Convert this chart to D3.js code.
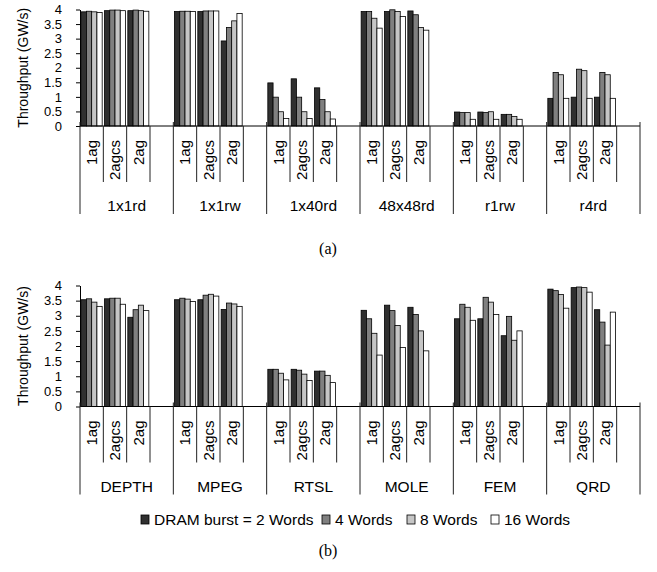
<!DOCTYPE html>
<html>
<head>
<meta charset="utf-8">
<script src="https://cdn.jsdelivr.net/npm/d3@7"></script>
<style>
body { margin: 0; background: #fff; }
svg { font-family: "Liberation Sans", Arial, sans-serif; }
</style>
</head>
<body>
<svg width="657" height="572"></svg>
<script>
var groupsA = ["1x1rd", "1x1rw", "1x40rd", "48x48rd", "r1rw", "r4rd"];
var groupsB = ["DEPTH", "MPEG", "RTSL", "MOLE", "FEM", "QRD"];
var subs = ["1ag", "2agcs", "2ag"];
var seriesNames = ["DRAM burst = 2 Words", "4 Words", "8 Words", "16 Words"];
var yTicks = [0, 0.5, 1, 1.5, 2, 2.5, 3, 3.5, 4];

// values in group order, 3 subs per group
var a2  = [3.92,3.96,3.96, 3.93,3.93,2.92, 1.48,1.62,1.31, 3.93,3.93,3.95, 0.48,0.48,0.40, 0.95,0.99,0.99];
var a4  = [3.94,3.98,3.98, 3.94,3.95,3.38, 0.99,0.99,0.91, 3.93,3.99,3.82, 0.46,0.46,0.40, 1.84,1.95,1.84];
var a8  = [3.92,3.98,3.96, 3.94,3.95,3.61, 0.49,0.49,0.49, 3.70,3.93,3.38, 0.46,0.49,0.33, 1.76,1.90,1.76];
var a16 = [3.90,3.96,3.94, 3.93,3.95,3.86, 0.26,0.26,0.24, 3.36,3.76,3.29, 0.23,0.23,0.23, 0.95,0.95,0.95];

var b2  = [3.53,3.56,2.95, 3.53,3.53,3.21, 1.23,1.23,1.17, 3.18,3.35,3.28, 2.90,2.90,2.34, 3.88,3.93,3.20];
var b4  = [3.56,3.58,3.20, 3.58,3.68,3.42, 1.23,1.20,1.17, 2.90,3.17,3.04, 3.38,3.61,2.98, 3.83,3.95,2.79];
var b8  = [3.45,3.58,3.35, 3.55,3.71,3.39, 1.10,1.07,1.03, 2.42,2.68,2.50, 3.28,3.45,2.19, 3.70,3.93,2.03];
var b16 = [3.31,3.38,3.17, 3.47,3.65,3.31, 0.88,0.86,0.79, 1.70,1.95,1.84, 2.85,3.04,2.50, 3.25,3.78,3.12];

var colors = ["#303030", "#808080", "#c6c6c6", "#ffffff"];

var svg = d3.select("svg");

function drawPanel(groups, series, y0, y4, caption, captionY) {
  var g = svg.append("g");
  var slots = [];
  groups.forEach(function(gr) {
    subs.forEach(function(s) { slots.push(gr + "|" + s); });
    slots.push(gr + "|_");
  });

  var x = d3.scaleBand().domain(slots).range([80, 640]);
  var xs = d3.scaleBand().domain(d3.range(4)).range([0, x.bandwidth()]).paddingOuter(0.22);
  var y = d3.scaleLinear().domain([0, 4]).range([y0, y4]);

  var rows = [];
  groups.forEach(function(gr, gi) {
    subs.forEach(function(s, si) {
      series.forEach(function(arr, k) {
        rows.push({slot: gr + "|" + s, k: k, v: arr[gi * 3 + si]});
      });
    });
  });

  g.selectAll("rect.bar")
    .data(rows)
    .enter().append("rect")
    .attr("class", "bar")
    .attr("x", function(d) { return x(d.slot) + xs(d.k); })
    .attr("width", xs.bandwidth())
    .attr("y", function(d) { return y(d.v); })
    .attr("height", function(d) { return y(0) - y(d.v); })
    .attr("fill", function(d) { return colors[d.k]; })
    .attr("stroke", "#000")
    .attr("stroke-width", 0.8);

  // y axis
  var ya = g.append("g")
    .attr("transform", "translate(80,0)")
    .call(d3.axisLeft(y).tickValues(yTicks).tickSize(4).tickSizeOuter(0).tickPadding(14)
      .tickFormat(function(d) { return String(d); }));
  ya.selectAll("text").attr("font-size", 13).attr("fill", "#000").attr("font-family", "Liberation Sans, Arial");
  ya.selectAll("line, path").attr("stroke", "#000");

  // category axis
  g.append("line")
    .attr("x1", 80).attr("x2", 640)
    .attr("y1", y0).attr("y2", y0)
    .attr("stroke", "#000");

  slots.forEach(function(s, i) {
    var first = i % 4 === 0;
    var xx = x(s);
    g.append("line")
      .attr("x1", xx).attr("x2", xx)
      .attr("y1", first ? y0 - 4 : y0).attr("y2", first ? y0 + 88 : y0 + 56)
      .attr("stroke", "#222");
  });
  g.append("line")
    .attr("x1", 640).attr("x2", 640)
    .attr("y1", y0 - 4).attr("y2", y0 + 88)
    .attr("stroke", "#222");

  slots.forEach(function(s) {
    var lab = s.split("|")[1];
    if (lab === "_") return;
    var cx = x(s) + x.bandwidth() / 2;
    g.append("text")
      .attr("transform", "translate(" + cx + "," + (y0 + 14) + ") rotate(-90)")
      .attr("text-anchor", "end")
      .attr("dy", "0.35em")
      .attr("font-size", 15)
      .text(lab);
  });

  groups.forEach(function(gr) {
    var cx = x(gr + "|" + subs[0]) + 2 * x.bandwidth();
    g.append("text")
      .attr("x", cx).attr("y", y0 + 80)
      .attr("dy", "0.35em")
      .attr("text-anchor", "middle")
      .attr("font-size", 15.5)
      .text(gr);
  });

  g.append("text")
    .attr("transform", "translate(23," + ((y0 + y4) / 2) + ") rotate(-90)")
    .attr("text-anchor", "middle")
    .attr("dy", "0.35em")
    .attr("font-size", 14)
    .text("Throughput (GW/s)");

  g.append("text")
    .attr("x", 328).attr("y", captionY)
    .attr("dy", "0.35em")
    .attr("text-anchor", "middle")
    .attr("font-family", "Liberation Serif, Times New Roman, serif")
    .attr("font-size", 16)
    .text(caption);
}

drawPanel(groupsA, [a2, a4, a8, a16], 126, 9.5, "(a)", 248);
drawPanel(groupsB, [b2, b4, b8, b16], 406.5, 285.5, "(b)", 550);

// legend
var legX = [141, 322, 407, 491];
var leg = svg.append("g");
seriesNames.forEach(function(n, i) {
  leg.append("rect")
    .attr("x", legX[i]).attr("y", 515)
    .attr("width", 8).attr("height", 9)
    .attr("fill", colors[i])
    .attr("stroke", "#000")
    .attr("stroke-width", 0.8);
  leg.append("text")
    .attr("x", legX[i] + 13).attr("y", 520)
    .attr("dy", "0.35em")
    .attr("font-size", 15.5)
    .text(n);
});
</script>
</body>
</html>
